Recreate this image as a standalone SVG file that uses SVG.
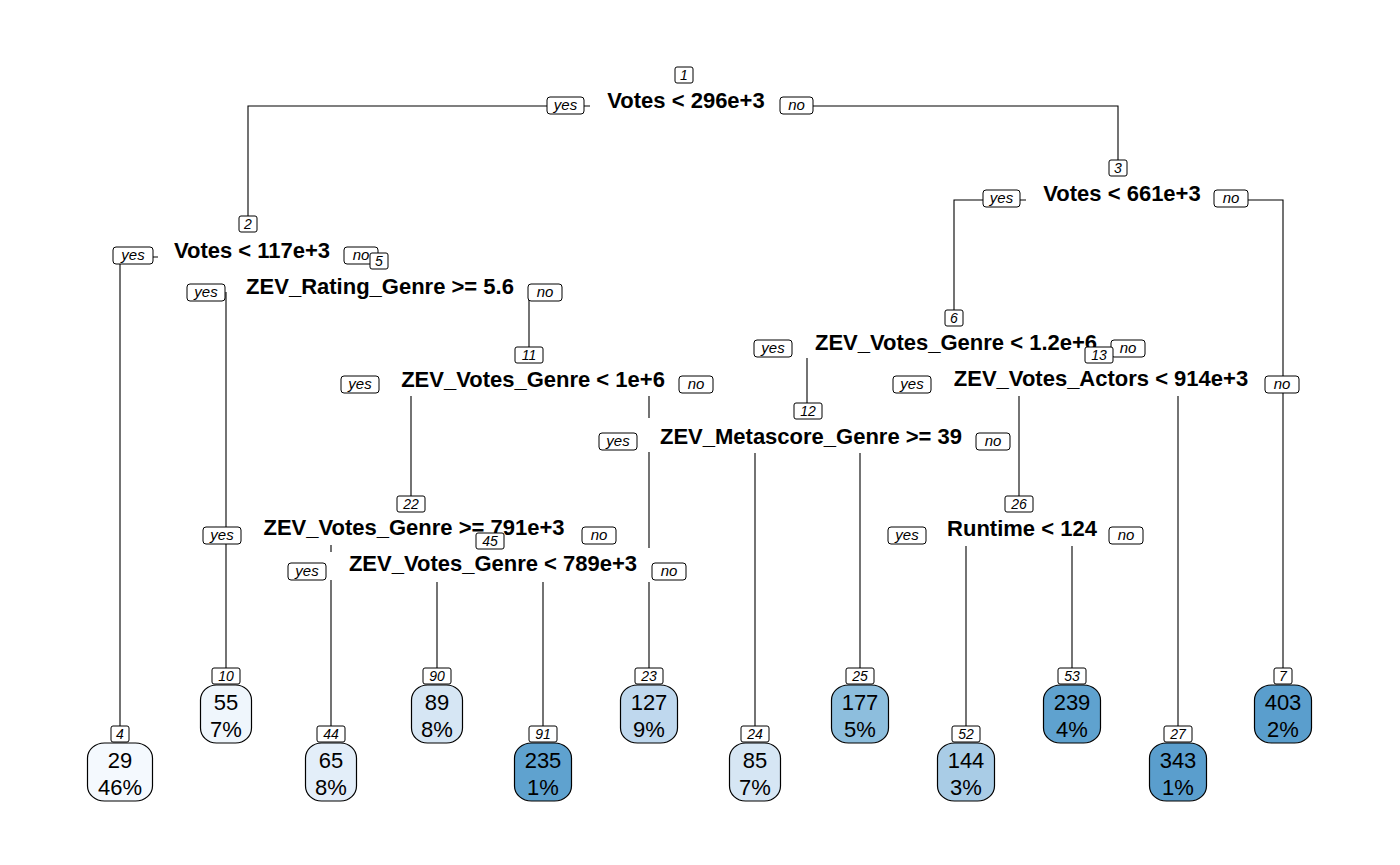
<svg xmlns="http://www.w3.org/2000/svg" width="1400" height="865" viewBox="0 0 1400 865">
<style>
text{font-family:"Liberation Sans",Arial,sans-serif;fill:#000}
.ln{fill:none;stroke:#000;stroke-width:1.1}
.bx{fill:#fff;stroke:#000;stroke-width:1}
.num{font-style:italic;font-size:14px;text-anchor:middle}
.yn{font-style:italic;font-size:15px;text-anchor:middle}
.sp{font-weight:bold;font-size:22px;text-anchor:middle}
.lf{stroke:#000;stroke-width:1.2}
.lv{font-size:22px;text-anchor:middle}
</style>
<rect width="1400" height="865" fill="#fff"/>
<g id="connectors">
<path class="ln" d="M590,106 H248 V216"/>
<path class="ln" d="M780,106 H1118 V160"/>
<path class="ln" d="M158,257 H120 V726"/>
<path class="ln" d="M226,292 V668"/>
<path class="ln" d="M529,292 V347"/>
<path class="ln" d="M411,396 V496"/>
<path class="ln" d="M649,396 V418 M649,452 V548 M649,582 V668"/>
<path class="ln" d="M331,545 V552 M331,580 V726"/>
<path class="ln" d="M437,582 V668"/>
<path class="ln" d="M543,582 V726"/>
<path class="ln" d="M807,358 V403"/>
<path class="ln" d="M755,453 V726"/>
<path class="ln" d="M860,453 V668"/>
<path class="ln" d="M1026,200 H954 V310"/>
<path class="ln" d="M1214,200 H1283 V668"/>
<path class="ln" d="M1019,396 V496"/>
<path class="ln" d="M1178,396 V726"/>
<path class="ln" d="M966,546 V726"/>
<path class="ln" d="M1072,546 V668"/>
</g>
<g id="node1">
<rect class="bx" x="675" y="67" width="18" height="16" rx="2"/><text class="num" x="684" y="80">1</text>
<text class="sp" x="686" y="108">Votes &lt; 296e+3</text>
<rect class="bx" x="547" y="97" width="37" height="17" rx="3"/><text class="yn" x="565.5" y="110">yes</text>
<rect class="bx" x="780" y="97" width="33" height="17" rx="3"/><text class="yn" x="796.5" y="110">no</text>
</g>
<g id="node2">
<rect class="bx" x="239" y="216" width="18" height="16" rx="2"/><text class="num" x="248" y="229">2</text>
<text class="sp" x="252" y="258">Votes &lt; 117e+3</text>
<rect class="bx" x="113" y="247" width="40" height="17" rx="3"/><text class="yn" x="133" y="260">yes</text>
<rect class="bx" x="344" y="247" width="34" height="17" rx="3"/><text class="yn" x="361" y="260">no</text>
</g>
<g id="node3">
<rect class="bx" x="1109" y="160" width="18" height="16" rx="2"/><text class="num" x="1118" y="173">3</text>
<text class="sp" x="1122" y="201">Votes &lt; 661e+3</text>
<rect class="bx" x="983" y="190" width="37" height="17" rx="3"/><text class="yn" x="1001.5" y="203">yes</text>
<rect class="bx" x="1214" y="190" width="34" height="17" rx="3"/><text class="yn" x="1231" y="203">no</text>
</g>
<g id="node5">
<rect class="bx" x="370" y="253" width="18" height="16" rx="2"/><text class="num" x="379" y="266">5</text>
<text class="sp" x="380" y="294">ZEV_Rating_Genre &gt;= 5.6</text>
<rect class="bx" x="187" y="284" width="38" height="17" rx="3"/><text class="yn" x="206" y="297">yes</text>
<rect class="bx" x="528" y="284" width="34" height="17" rx="3"/><text class="yn" x="545" y="297">no</text>
</g>
<g id="node6">
<rect class="bx" x="945" y="310" width="18" height="16" rx="2"/><text class="num" x="954" y="323">6</text>
<text class="sp" x="956" y="350">ZEV_Votes_Genre &lt; 1.2e+6</text>
<rect class="bx" x="754" y="340" width="38" height="17" rx="3"/><text class="yn" x="773" y="353">yes</text>
<rect class="bx" x="1111" y="340" width="34" height="17" rx="3"/><text class="yn" x="1128" y="353">no</text>
</g>
<g id="node11">
<rect class="bx" x="515" y="347" width="28" height="16" rx="2"/><text class="num" x="529" y="360">11</text>
<text class="sp" x="533" y="387">ZEV_Votes_Genre &lt; 1e+6</text>
<rect class="bx" x="341" y="376" width="38" height="17" rx="3"/><text class="yn" x="360" y="389">yes</text>
<rect class="bx" x="679" y="376" width="34" height="17" rx="3"/><text class="yn" x="696" y="389">no</text>
</g>
<g id="node13">
<rect class="bx" x="1085" y="347" width="28" height="16" rx="2"/><text class="num" x="1099" y="360">13</text>
<text class="sp" x="1101" y="386">ZEV_Votes_Actors &lt; 914e+3</text>
<rect class="bx" x="893" y="376" width="38" height="17" rx="3"/><text class="yn" x="912" y="389">yes</text>
<rect class="bx" x="1265" y="376" width="34" height="17" rx="3"/><text class="yn" x="1282" y="389">no</text>
</g>
<g id="node12">
<rect class="bx" x="794" y="403" width="28" height="16" rx="2"/><text class="num" x="808" y="416">12</text>
<text class="sp" x="811" y="444">ZEV_Metascore_Genre &gt;= 39</text>
<rect class="bx" x="599" y="433" width="38" height="17" rx="3"/><text class="yn" x="618" y="446">yes</text>
<rect class="bx" x="976" y="433" width="34" height="17" rx="3"/><text class="yn" x="993" y="446">no</text>
</g>
<g id="node22">
<rect class="bx" x="397" y="496" width="28" height="16" rx="2"/><text class="num" x="411" y="509">22</text>
<text class="sp" x="414" y="535">ZEV_Votes_Genre &gt;= 791e+3</text>
<rect class="bx" x="203" y="527" width="38" height="17" rx="3"/><text class="yn" x="222" y="540">yes</text>
<rect class="bx" x="582" y="527" width="34" height="17" rx="3"/><text class="yn" x="599" y="540">no</text>
</g>
<g id="node26">
<rect class="bx" x="1005" y="496" width="28" height="16" rx="2"/><text class="num" x="1019" y="509">26</text>
<text class="sp" x="1022" y="536">Runtime &lt; 124</text>
<rect class="bx" x="888" y="527" width="38" height="17" rx="3"/><text class="yn" x="907" y="540">yes</text>
<rect class="bx" x="1109" y="527" width="34" height="17" rx="3"/><text class="yn" x="1126" y="540">no</text>
</g>
<g id="node45">
<rect class="bx" x="476" y="533" width="28" height="16" rx="2"/><text class="num" x="490" y="546">45</text>
<text class="sp" x="493" y="571">ZEV_Votes_Genre &lt; 789e+3</text>
<rect class="bx" x="288" y="563" width="38" height="17" rx="3"/><text class="yn" x="307" y="576">yes</text>
<rect class="bx" x="652" y="563" width="34" height="17" rx="3"/><text class="yn" x="669" y="576">no</text>
</g>
<g id="leaf4">
<rect class="bx" x="111" y="726" width="18" height="16" rx="2"/><text class="num" x="120" y="739">4</text>
<rect class="lf" x="87.5" y="743" width="65" height="58" rx="17" ry="15" fill="#F4F9FE"/>
<text class="lv" x="120" y="768">29</text><text class="lv" x="120" y="795">46%</text>
</g>
<g id="leaf10">
<rect class="bx" x="212" y="668" width="28" height="16" rx="2"/><text class="num" x="226" y="681">10</text>
<rect class="lf" x="200.5" y="685" width="51" height="58" rx="16" ry="15" fill="#EFF6FC"/>
<text class="lv" x="226" y="710">55</text><text class="lv" x="226" y="737">7%</text>
</g>
<g id="leaf44">
<rect class="bx" x="317" y="726" width="28" height="16" rx="2"/><text class="num" x="331" y="739">44</text>
<rect class="lf" x="305.5" y="743" width="51" height="58" rx="16" ry="15" fill="#E3EEF9"/>
<text class="lv" x="331" y="768">65</text><text class="lv" x="331" y="795">8%</text>
</g>
<g id="leaf90">
<rect class="bx" x="423" y="668" width="28" height="16" rx="2"/><text class="num" x="437" y="681">90</text>
<rect class="lf" x="411.5" y="685" width="51" height="58" rx="16" ry="15" fill="#D6E6F4"/>
<text class="lv" x="437" y="710">89</text><text class="lv" x="437" y="737">8%</text>
</g>
<g id="leaf91">
<rect class="bx" x="529" y="726" width="28" height="16" rx="2"/><text class="num" x="543" y="739">91</text>
<rect class="lf" x="514.5" y="743" width="57" height="58" rx="17" ry="15" fill="#5FA2CF"/>
<text class="lv" x="543" y="768">235</text><text class="lv" x="543" y="795">1%</text>
</g>
<g id="leaf23">
<rect class="bx" x="635" y="668" width="28" height="16" rx="2"/><text class="num" x="649" y="681">23</text>
<rect class="lf" x="620.5" y="685" width="57" height="58" rx="17" ry="15" fill="#BFD8EE"/>
<text class="lv" x="649" y="710">127</text><text class="lv" x="649" y="737">9%</text>
</g>
<g id="leaf24">
<rect class="bx" x="741" y="726" width="28" height="16" rx="2"/><text class="num" x="755" y="739">24</text>
<rect class="lf" x="729.5" y="743" width="51" height="58" rx="16" ry="15" fill="#D6E6F4"/>
<text class="lv" x="755" y="768">85</text><text class="lv" x="755" y="795">7%</text>
</g>
<g id="leaf25">
<rect class="bx" x="846" y="668" width="28" height="16" rx="2"/><text class="num" x="860" y="681">25</text>
<rect class="lf" x="831.5" y="685" width="57" height="58" rx="17" ry="15" fill="#8DBEDD"/>
<text class="lv" x="860" y="710">177</text><text class="lv" x="860" y="737">5%</text>
</g>
<g id="leaf52">
<rect class="bx" x="952" y="726" width="28" height="16" rx="2"/><text class="num" x="966" y="739">52</text>
<rect class="lf" x="937.5" y="743" width="57" height="58" rx="17" ry="15" fill="#A9CCE6"/>
<text class="lv" x="966" y="768">144</text><text class="lv" x="966" y="795">3%</text>
</g>
<g id="leaf53">
<rect class="bx" x="1058" y="668" width="28" height="16" rx="2"/><text class="num" x="1072" y="681">53</text>
<rect class="lf" x="1043.5" y="685" width="57" height="58" rx="17" ry="15" fill="#5FA2CF"/>
<text class="lv" x="1072" y="710">239</text><text class="lv" x="1072" y="737">4%</text>
</g>
<g id="leaf27">
<rect class="bx" x="1164" y="726" width="28" height="16" rx="2"/><text class="num" x="1178" y="739">27</text>
<rect class="lf" x="1149.5" y="743" width="57" height="58" rx="17" ry="15" fill="#5A9ECD"/>
<text class="lv" x="1178" y="768">343</text><text class="lv" x="1178" y="795">1%</text>
</g>
<g id="leaf7">
<rect class="bx" x="1274" y="668" width="18" height="16" rx="2"/><text class="num" x="1283" y="681">7</text>
<rect class="lf" x="1254.5" y="685" width="57" height="58" rx="17" ry="15" fill="#5A9ECD"/>
<text class="lv" x="1283" y="710">403</text><text class="lv" x="1283" y="737">2%</text>
</g>
</svg>
